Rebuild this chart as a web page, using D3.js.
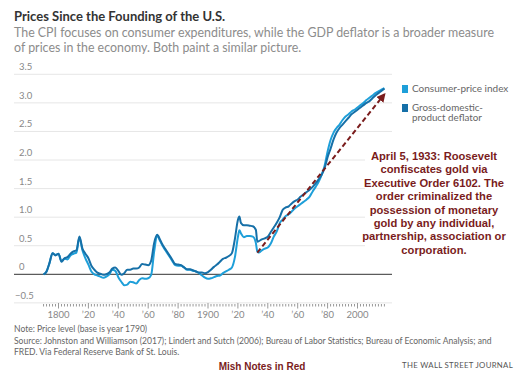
<!DOCTYPE html>
<html><head><meta charset="utf-8">
<script src="https://cdn.jsdelivr.net/npm/d3@7"></script>
<style>
html,body{margin:0;padding:0;background:#fff;}
svg{display:block;}
</style></head>
<body><svg id="c" width="529" height="379"></svg>
<script>
const years = [1790,1792,1794,1796,1798,1800,1802,1804,1806,1808,1810,1812,1814,1816,1818,1820,1822,1824,1826,1828,1830,1832,1834,1836,1838,1840,1842,1844,1846,1848,1850,1852,1854,1856,1858,1860,1862,1864,1866,1868,1870,1872,1874,1876,1878,1880,1882,1884,1886,1888,1890,1892,1894,1896,1898,1900,1902,1904,1906,1908,1910,1912,1914,1916,1918,1920,1921,1922,1924,1926,1928,1930,1932,1933,1934,1936,1938,1940,1942,1944,1946,1948,1950,1952,1954,1956,1958,1960,1962,1964,1966,1968,1970,1972,1974,1976,1978,1980,1982,1984,1986,1988,1990,1992,1994,1996,1998,2000,2002,2004,2006,2008,2010,2012,2014,2016,2018];
const gdpDeflator = [0,0.05,0.2,0.37,0.33,0.36,0.22,0.28,0.30,0.36,0.40,0.42,0.66,0.45,0.36,0.28,0.15,0.08,0.03,0.01,-0.01,0.0,0.03,0.10,0.12,0.06,-0.01,0.02,0.08,0.08,0.10,0.10,0.12,0.18,0.17,0.16,0.24,0.55,0.69,0.60,0.50,0.42,0.34,0.26,0.18,0.17,0.16,0.12,0.09,0.09,0.07,0.05,0.03,0.03,0.02,0.04,0.08,0.13,0.17,0.22,0.27,0.29,0.32,0.37,0.62,0.95,1.01,0.90,0.86,0.86,0.85,0.84,0.78,0.57,0.58,0.61,0.63,0.66,0.74,0.82,0.90,1.00,1.13,1.17,1.19,1.24,1.28,1.31,1.36,1.40,1.44,1.48,1.53,1.59,1.66,1.74,1.86,2.05,2.20,2.36,2.48,2.56,2.62,2.68,2.74,2.80,2.84,2.88,2.92,2.96,3.00,3.03,3.08,3.13,3.17,3.21,3.25];
const cpi = [0,0.05,0.2,0.37,0.34,0.36,0.23,0.27,0.26,0.33,0.36,0.38,0.64,0.42,0.28,0.17,0.05,0.0,-0.02,-0.04,-0.06,-0.04,0.0,0.08,0.06,-0.05,-0.13,-0.19,-0.18,-0.13,-0.14,-0.16,-0.10,-0.07,-0.08,-0.07,-0.01,0.40,0.68,0.58,0.48,0.40,0.32,0.24,0.16,0.15,0.15,0.12,0.08,0.08,0.06,0.05,0.02,-0.02,-0.06,-0.08,-0.07,-0.05,-0.03,-0.02,0.02,0.05,0.08,0.12,0.30,0.65,0.77,0.72,0.65,0.67,0.67,0.66,0.55,0.40,0.38,0.42,0.45,0.47,0.54,0.66,0.75,0.90,0.96,1.02,1.05,1.10,1.15,1.19,1.23,1.27,1.31,1.36,1.45,1.53,1.62,1.74,1.90,2.15,2.35,2.48,2.56,2.62,2.70,2.76,2.80,2.85,2.88,2.92,2.96,3.00,3.05,3.09,3.13,3.17,3.20,3.23,3.26];
const yTicks = [-0.5,0,0.5,1.0,1.5,2.0,2.5,3.0,3.5];
const xMajorTicks = [1800,1820,1840,1860,1880,1900,1920,1940,1960,1980,2000];
const xTickLabels = ["1800","\u201920","\u201940","\u201960","\u201980","1900","\u201920","\u201940","\u201960","\u201980","2000"];
const seriesNames = ["Consumer-price index","Gross-domestic-|product deflator"];
const arrowYears = [1933, 2018];
const arrowValues = [0.38, 3.15];
const noteLines = ["April 5, 1933: Roosevelt","confiscates gold via","Executive Order 6102. The","order criminalized the","possession of monetary","gold by any individual,","partnership, association or","corporation."];

const svg = d3.select("#c");
const x = d3.scaleLinear().domain([1800,2000]).range([58.5,357.5]);
const y = d3.scaleLinear().domain([0,3.5]).range([274.3,74.3]);
const WSJ = "Lato, 'Open Sans', sans-serif";
const colCPI = "#1e9fd9", colGDP = "#1670a8";

// title
svg.append("text").attr("x",14).attr("y",21).text("Prices Since the Founding of the U.S.")
  .attr("font-family",WSJ).attr("font-weight","bold").attr("font-size",13).attr("fill","#333");
svg.append("text").attr("x",14).attr("y",37).text("The CPI focuses on consumer expenditures, while the GDP deflator is a broader measure")
  .attr("font-family",WSJ).attr("font-size",12.4).attr("fill","#8c8c8c");
svg.append("text").attr("x",14).attr("y",52).text("of prices in the economy. Both paint a similar picture.")
  .attr("font-family",WSJ).attr("font-size",12.4).attr("fill","#8c8c8c");

// grid
const g = svg.append("g");
yTicks.forEach(v=>{
  g.append("line").attr("x1",14).attr("x2",392).attr("y1",y(v)).attr("y2",y(v))
    .attr("stroke", v===0 ? "#333" : "#e6e6e6").attr("stroke-width",1);
  g.append("text").attr("x", v<0 ? 15 : 19).attr("y",y(v)-4)
    .text(v===0 ? "0" : d3.format(".1f")(v))
    .attr("font-family",WSJ).attr("font-size",9.5).attr("fill","#888");
});

// x ticks
const minor = d3.range(1790,2019,2);
minor.forEach(yr=>{
  const isMajor = xMajorTicks.includes(yr);
  g.append("line").attr("x1",x(yr)).attr("x2",x(yr))
    .attr("y1", isMajor?303:304).attr("y2", isMajor?308.5:306.5)
    .attr("stroke","#999").attr("stroke-width",1);
});
xMajorTicks.forEach((yr,i)=>{
  g.append("text").attr("x",x(yr)).attr("y",318).attr("text-anchor","middle")
    .text(xTickLabels[i]).attr("font-family",WSJ).attr("font-size",9.5).attr("fill","#888");
});

// lines
const line = d3.line().x(d=>x(d[0])).y(d=>y(d[1])).curve(d3.curveMonotoneX);
svg.append("path").datum(years.map((yr,i)=>[yr,cpi[i]])).attr("d",line)
  .attr("fill","none").attr("stroke",colCPI).attr("stroke-width",2);
svg.append("path").datum(years.map((yr,i)=>[yr,gdpDeflator[i]])).attr("d",line)
  .attr("fill","none").attr("stroke",colGDP).attr("stroke-width",2);

// arrow
const defs = svg.append("defs");
defs.append("marker").attr("id","ah").attr("viewBox","0 0 10 10").attr("refX",8).attr("refY",5)
  .attr("markerWidth",4.5).attr("markerHeight",4.5).attr("orient","auto")
  .append("path").attr("d","M0,0L10,5L0,10z").attr("fill","#7a1c1c");
svg.append("line").attr("x1",x(arrowYears[0])).attr("y1",y(arrowValues[0]))
  .attr("x2",x(arrowYears[1])).attr("y2",y(arrowValues[1]))
  .attr("stroke","#7a1c1c").attr("stroke-width",2).attr("stroke-dasharray","5,3")
  .attr("marker-end","url(#ah)");

// legend
[[colCPI,85],[colGDP,104]].forEach(([c,yy])=>{
  svg.append("rect").attr("x",402).attr("y",yy).attr("width",6).attr("height",8).attr("fill",c);
});
svg.append("text").attr("x",412).attr("y",92).text(seriesNames[0])
  .attr("font-family",WSJ).attr("font-size",10).attr("fill","#666");
seriesNames[1].split("|").forEach((t,i)=>{
  svg.append("text").attr("x",412).attr("y",110.5+i*10.5).text(t)
    .attr("font-family",WSJ).attr("font-size",9.8).attr("fill","#666");
});

// annotation
svg.append("rect").attr("x",365).attr("y",146).attr("width",140).attr("height",110).attr("fill","#fff");
noteLines.forEach((t,i)=>{
  svg.append("text").attr("x",434).attr("y",160+i*13.4).attr("text-anchor","middle").text(t)
    .attr("font-family","'Liberation Sans', Arial, sans-serif").attr("font-weight","bold")
    .attr("font-size",11.2).attr("fill","#7a1c1c");
});

// footer
const foot = ["Note: Price level (base is year 1790)",
 "Source: Johnston and Williamson (2017); Lindert and Sutch (2006); Bureau of Labor Statistics; Bureau of Economic Analysis; and",
 "FRED. Via Federal Reserve Bank of St. Louis."];
foot.forEach((t,i)=>{
  svg.append("text").attr("x",14).attr("y",332+i*11.5).text(t)
    .attr("font-family",WSJ).attr("font-size",8.55).attr("fill","#666");
});
svg.append("text").attr("x",262).attr("y",370).attr("text-anchor","middle").text("Mish Notes in Red")
  .attr("font-family","'Liberation Sans', Arial, sans-serif").attr("font-weight","bold")
  .attr("font-size",10).attr("fill","#7a1c1c");
svg.append("text").attr("x",513).attr("y",368).attr("text-anchor","end").text("THE WALL STREET JOURNAL")
  .attr("font-family",WSJ).attr("font-size",7.8).attr("letter-spacing",0.3).attr("fill","#555");
</script></body></html>
